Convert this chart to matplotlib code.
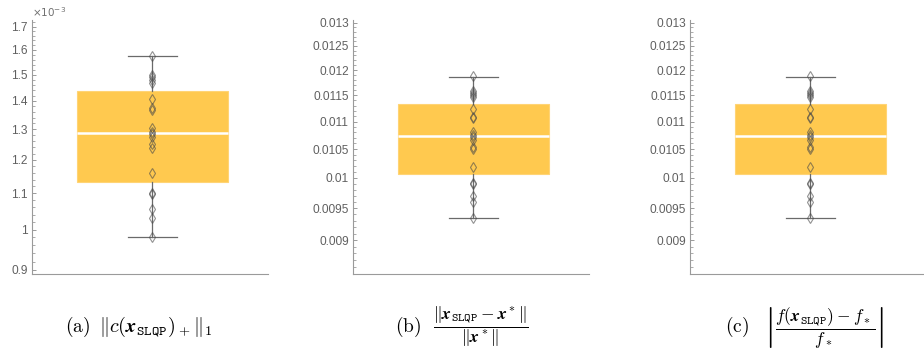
import numpy as np
import matplotlib
matplotlib.use("Agg")
import matplotlib.pyplot as plt
from matplotlib.ticker import FixedLocator, FuncFormatter, NullFormatter

# values
# (a) constraint violation, 20 runs
viol_pts = [1.5758e-3, 1.4985e-3, 1.4897e-3, 1.4793e-3, 1.4688e-3, 1.4087e-3,
            1.3749e-3, 1.3676e-3, 1.3057e-3, 1.2911e-3, 1.2831e-3, 1.2751e-3,
            1.2500e-3, 1.2389e-3, 1.1604e-3, 1.0998e-3, 1.0968e-3, 1.0554e-3,
            1.0302e-3, 0.9803e-3]
viol_box = [0.9803e-3, 1.1327e-3, 1.2864e-3, 1.4370e-3, 1.5735e-3]  # whislo, q1, med, q3, whishi

# (b) relative error in x
xerr_pts = [0.011871, 0.011586, 0.011547, 0.011502, 0.011458, 0.011239,
            0.011088, 0.011069, 0.010798, 0.010749, 0.010707, 0.010659,
            0.010538, 0.010503, 0.010183, 0.009914, 0.009905, 0.009700,
            0.009593, 0.009352]
xerr_box = [0.009352, 0.010063, 0.010726, 0.011328, 0.011862]

# (c) relative error in f (looks the same as (b) in the picture)
ferr_pts = [0.011871, 0.011586, 0.011547, 0.011502, 0.011458, 0.011239,
            0.011088, 0.011069, 0.010798, 0.010749, 0.010707, 0.010659,
            0.010538, 0.010503, 0.010183, 0.009914, 0.009905, 0.009700,
            0.009593, 0.009352]
ferr_box = [0.009352, 0.010063, 0.010726, 0.011328, 0.011862]

ticks_a = [0.9e-3, 1.0e-3, 1.1e-3, 1.2e-3, 1.3e-3, 1.4e-3, 1.5e-3, 1.6e-3, 1.7e-3]
ticks_bc = [0.009, 0.0095, 0.01, 0.0105, 0.011, 0.0115, 0.012, 0.0125, 0.013]

cap_labels = ['(a)', '(b)', '(c)']
cap_math = [r"$\Vert c(\mathbfit{x}_{\mathtt{SLQP}})_+\Vert_1$",
            r"$\dfrac{\Vert\mathbfit{x}_{\mathtt{SLQP}}-\mathbfit{x}^*\Vert}{\Vert\mathbfit{x}^*\Vert}$",
            r"$\left|\dfrac{f(\mathbfit{x}_{\mathtt{SLQP}})-f_*}{f_*}\right|$"]
cap_size = [14.5, 12.5, 12.5]

plt.rcParams['font.family'] = ['Liberation Sans', 'DejaVu Sans']
plt.rcParams['mathtext.fontset'] = 'cm'

box_col = '#FFC94F'
grey = '#6a6a6a'

fig = plt.figure(figsize=(9.24, 3.5), dpi=100)
lefts = [32, 353, 690]
axes = [fig.add_axes([l / 924, 1 - 274 / 350, 236 / 924, 254 / 350]) for l in lefts]

panels = [(viol_pts, viol_box, ticks_a, (0.8906e-3, 1.730e-3), 1e3),
          (xerr_pts, xerr_box, ticks_bc, (0.0085, 0.01306), 1),
          (ferr_pts, ferr_box, ticks_bc, (0.0085, 0.01306), 1)]

for ax, (pts, bx, ticks, ylim, sc) in zip(axes, panels):
    ax.set_yscale('log')
    stats = [dict(whislo=bx[0], q1=bx[1], med=bx[2], q3=bx[3], whishi=bx[4], fliers=[])]
    ax.bxp(stats, positions=[1], widths=0.64, capwidths=0.21, patch_artist=True,
           showfliers=False,
           boxprops=dict(facecolor=box_col, edgecolor='#FFD475', linewidth=0.8),
           medianprops=dict(color='white', linewidth=1.8),
           whiskerprops=dict(color=grey, linewidth=0.9),
           capprops=dict(color=grey, linewidth=0.9))
    ax.plot(np.ones(len(pts)), pts, 'd', ms=4.6, mfc='none', mec='#4a4a4a',
            mew=0.8, alpha=0.6, zorder=5)
    ax.set_xlim(0.49, 1.49)
    ax.set_ylim(*ylim)

    ax.yaxis.set_major_locator(FixedLocator(ticks))
    ax.yaxis.set_major_formatter(FuncFormatter(lambda v, p, s=sc: '%g' % round(v * s, 6)))
    step = (ticks[1] - ticks[0]) / 5
    minors = np.arange(ylim[0] - ylim[0] % step, ylim[1], step)
    ax.yaxis.set_minor_locator(FixedLocator(minors))
    ax.yaxis.set_minor_formatter(NullFormatter())
    ax.tick_params(axis='y', which='major', direction='in', length=3, width=0.6,
                   colors='#8a8a8a', labelcolor='#606060', labelsize=8.6, pad=3)
    ax.tick_params(axis='y', which='minor', direction='in', length=1.8, width=0.5,
                   colors='#8a8a8a')
    ax.set_xticks([])
    for s in ['top', 'right']:
        ax.spines[s].set_visible(False)
    for s in ['left', 'bottom']:
        ax.spines[s].set_color('#9a9a9a')
        ax.spines[s].set_linewidth(0.8)
    ax.patch.set_alpha(0)

axes[0].text(0.0, 1.005, r'$\times10^{-3}$', transform=axes[0].transAxes,
             fontsize=7.5, color='#707070', ha='left', va='bottom',
             math_fontfamily='dejavusans')

# caption: label left edge, formula after it
lab_x = [65, 395, 725]
math_x = [99, 433, 764]
for lx, mx, lab, m, fs in zip(lab_x, math_x, cap_labels, cap_math, cap_size):
    fig.text(lx / 924, 1 - 327 / 350, '$\\mathrm{' + lab + '}$', ha='left', va='center',
             fontsize=14)
    fig.text(mx / 924, 1 - 327 / 350, m, ha='left', va='center', fontsize=fs)

fig.savefig('out.png', dpi=100)
